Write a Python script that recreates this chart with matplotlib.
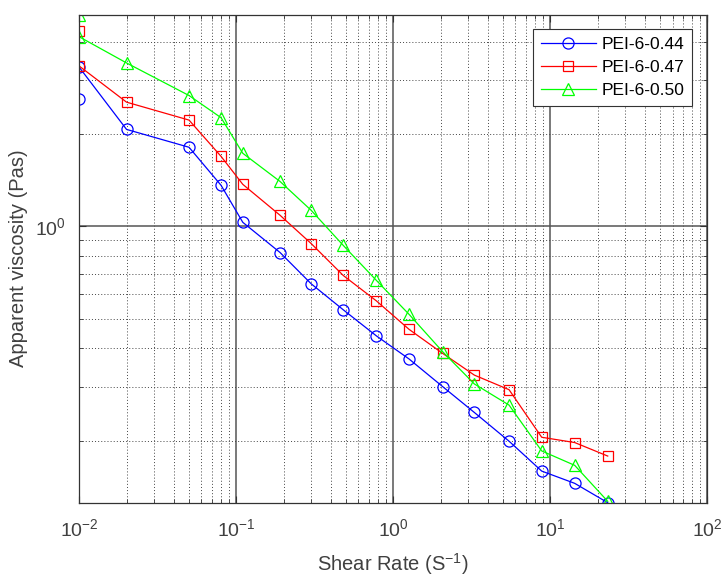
import matplotlib
matplotlib.use('Agg')
import matplotlib.pyplot as plt
import numpy as np
from matplotlib.ticker import LogLocator, LogFormatterSciNotation, NullFormatter

plt.rcParams['font.family'] = ['Liberation Sans', 'DejaVu Sans']
plt.rcParams['mathtext.default'] = 'regular'

# shear rate (1/s)
shear_rate = [0.01, 0.01, 0.02, 0.05, 0.08, 0.11, 0.19, 0.30, 0.48, 0.78,
              1.26, 2.06, 3.28, 5.46, 8.81, 14.3, 23.2]

# apparent viscosity (Pa s)
pei_044 = [2.60, 3.30, 2.07, 1.81, 1.36, 1.03, 0.821, 0.649, 0.534, 0.439,
           0.369, 0.300, 0.247, 0.199, 0.159, 0.145, 0.1254]
pei_047 = [4.33, 3.33, 2.54, 2.22, 1.69, 1.37, 1.086, 0.878, 0.691, 0.571,
           0.461, 0.385, 0.327, 0.293, 0.205, 0.197, 0.178]
pei_050 = [4.90, 4.15, 3.41, 2.67, 2.26, 1.73, 1.40, 1.127, 0.866, 0.666,
           0.516, 0.390, 0.306, 0.261, 0.185, 0.166, 0.1267]

labels = ['PEI-6-0.44', 'PEI-6-0.47', 'PEI-6-0.50']
colors = ['#0000ff', '#ff0000', '#00ff00']
markers = ['o', 's', '^']

fig = plt.figure(figsize=(7.22, 5.78), dpi=100)
ax = fig.add_axes([0.1098, 0.1303, 0.8699, 0.8443])

for ys, lab, c, m in zip([pei_044, pei_047, pei_050], labels, colors, markers):
    ax.plot(shear_rate, ys, color=c, marker=m, markersize=8 if m != 's' else 7.5,
            markerfacecolor='none', markeredgewidth=0.9, linewidth=0.9, label=lab)

ax.set_xscale('log')
ax.set_yscale('log')
ax.set_xlim(1e-2, 1e2)
all_y = pei_044 + pei_047 + pei_050
ax.set_ylim(min(all_y), max(all_y))

ax.xaxis.set_major_locator(LogLocator(base=10, numticks=10))
ax.xaxis.set_major_formatter(LogFormatterSciNotation())
ax.xaxis.set_minor_locator(LogLocator(base=10, subs=np.arange(2, 10), numticks=20))
ax.xaxis.set_minor_formatter(NullFormatter())
ax.yaxis.set_major_locator(LogLocator(base=10, numticks=10))
ax.yaxis.set_major_formatter(LogFormatterSciNotation())
ax.yaxis.set_minor_locator(LogLocator(base=10, subs=np.arange(2, 10), numticks=20))
ax.yaxis.set_minor_formatter(NullFormatter())

ax.grid(True, which='major', color='#555555', linestyle='-', linewidth=1.1)
ax.grid(True, which='minor', color='#444444', linestyle=(0, (1, 2.2)), linewidth=0.7)
ax.set_axisbelow(True)

ax.tick_params(which='both', direction='in', top=True, right=True, colors='#333333',
               labelcolor='#404040', labelsize=14)
ax.tick_params(which='major', length=5)
ax.tick_params(axis='x', which='major', pad=11)
ax.tick_params(axis='y', which='major', pad=10)
ax.tick_params(which='minor', length=3)
for s in ax.spines.values():
    s.set_color('#333333')
    s.set_linewidth(0.9)

ax.set_xlabel('Shear Rate (S$^{-1}$)', fontsize=14.5, color='#404040', labelpad=8)
ax.set_ylabel('Apparent viscosity (Pas)', fontsize=14.5, color='#404040', labelpad=5)

leg = ax.legend(loc='upper right', bbox_to_anchor=(0.9756, 0.970), fontsize=12.5,
                fancybox=False, framealpha=1, edgecolor='#333333',
                handlelength=3.2, borderpad=0.45, labelspacing=0.45, handletextpad=0.3,
                borderaxespad=0)
leg.get_frame().set_linewidth(0.8)

fig.savefig('out.png', dpi=100)
